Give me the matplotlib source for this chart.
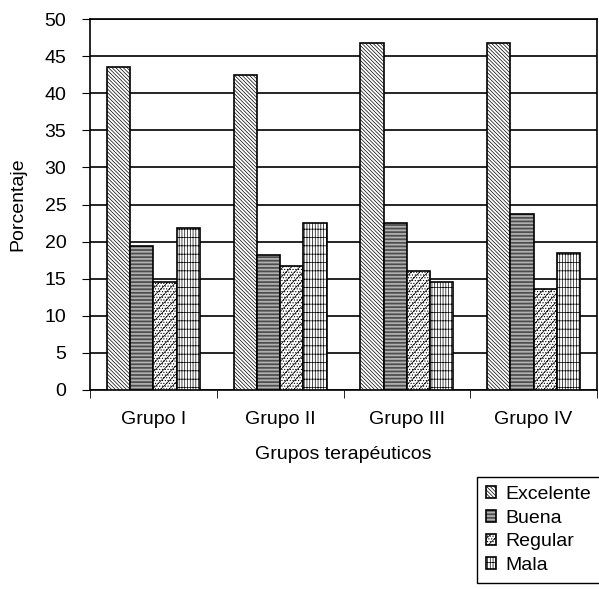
import numpy as np
import matplotlib
matplotlib.use('Agg')
import matplotlib.pyplot as plt

plt.rcParams['font.family'] = ['Liberation Sans', 'DejaVu Sans']
plt.rcParams['hatch.linewidth'] = 0.5

grupos = ['Grupo I', 'Grupo II', 'Grupo III', 'Grupo IV']
series = ['Excelente', 'Buena', 'Regular', 'Mala']
excelente = [43.5, 42.4, 46.8, 46.8]
buena = [19.4, 18.2, 22.5, 23.7]
regular = [14.6, 16.7, 16.1, 13.6]
mala = [21.9, 22.5, 14.5, 18.5]

valores = [excelente, buena, regular, mala]
hatches = ['\\' * 9, '-' * 12, '.' * 6 + '////', '|' * 6 + '--']

fig = plt.figure(figsize=(5.99, 5.89), dpi=100)
ax = fig.add_axes([90/599, 1-390/589, 507/599, 371/589])

x = np.arange(len(grupos))
w = 0.183
for i in range(4):
    ax.bar(x - 1.5*w + i*w, valores[i], w, color='white', edgecolor='black',
           hatch=hatches[i], linewidth=1.2, label=series[i], zorder=3)

ax.set_xlim(-0.5, 3.5)
ax.set_ylim(0, 50)
ax.set_yticks(np.arange(0, 51, 5))
ax.set_xticks(x)
ax.set_xticklabels(grupos, fontsize=14)
ax.tick_params(axis='y', labelsize=14, direction='out', length=6, pad=11)
ax.tick_params(axis='x', length=0, pad=15)
ax.set_xticks(np.arange(-0.5, 4, 1), minor=True)
ax.tick_params(axis='x', which='minor', length=6, direction='out')
ax.yaxis.grid(True, color='black', linewidth=1.2, zorder=0)
ax.set_axisbelow(True)
for s in ax.spines.values():
    s.set_linewidth(1.2)
ax.set_ylabel('Porcentaje', fontsize=14)
ax.yaxis.set_label_coords(-0.125, 0.5)
ax.set_xlabel('Grupos terapéuticos', fontsize=14, labelpad=13)

leg = fig.legend(loc='upper left', bbox_to_anchor=(477/599, 1-477/589), fontsize=14,
                 handlelength=0.55, handleheight=0.55, handletextpad=0.45,
                 borderpad=0.45, labelspacing=0.35, fancybox=False, framealpha=1,
                 edgecolor='black', borderaxespad=0)
leg.get_frame().set_linewidth(1.0)

plt.savefig('out.png', dpi=100)
